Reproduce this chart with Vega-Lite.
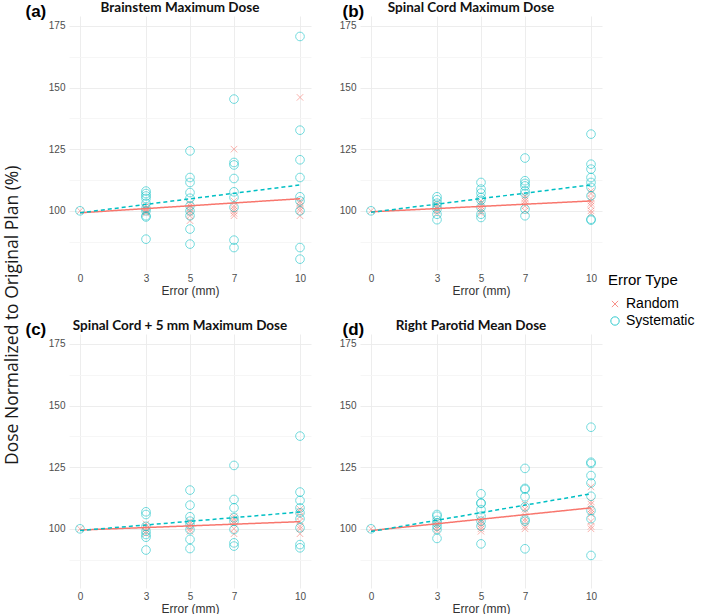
{
  "$schema": "https://vega.github.io/schema/vega-lite/v6.json",
  "padding": {"left": 3, "top": 0, "right": 0, "bottom": 0},
  "title": {"text": "Dose Normalized to Original Plan (%)", "orient": "left", "anchor": "middle", "frame": "bounds", "fontSize": 17.5, "fontWeight": "normal", "font": "Open Sans", "color": "#1a1a1a", "offset": 4, "dx": -8},
  "datasets": {
    "pts": [
      {"p":"a","t":"Random","e":0,"v":100},{"p":"a","t":"Systematic","e":0,"v":100},
      {"p":"a","t":"Random","e":3,"v":99},{"p":"a","t":"Random","e":3,"v":100},{"p":"a","t":"Random","e":3,"v":100.5},{"p":"a","t":"Random","e":3,"v":101},{"p":"a","t":"Random","e":3,"v":102},{"p":"a","t":"Random","e":3,"v":99.5},
      {"p":"a","t":"Random","e":5,"v":96},{"p":"a","t":"Random","e":5,"v":98},{"p":"a","t":"Random","e":5,"v":99},{"p":"a","t":"Random","e":5,"v":100},{"p":"a","t":"Random","e":5,"v":101},{"p":"a","t":"Random","e":5,"v":102},{"p":"a","t":"Random","e":5,"v":103},
      {"p":"a","t":"Random","e":7,"v":125},{"p":"a","t":"Random","e":7,"v":104},{"p":"a","t":"Random","e":7,"v":102},{"p":"a","t":"Random","e":7,"v":101},{"p":"a","t":"Random","e":7,"v":100},{"p":"a","t":"Random","e":7,"v":99},{"p":"a","t":"Random","e":7,"v":98},
      {"p":"a","t":"Random","e":10,"v":146},{"p":"a","t":"Random","e":10,"v":104},{"p":"a","t":"Random","e":10,"v":103},{"p":"a","t":"Random","e":10,"v":102},{"p":"a","t":"Random","e":10,"v":101},{"p":"a","t":"Random","e":10,"v":100},{"p":"a","t":"Random","e":10,"v":98},
      {"p":"a","t":"Systematic","e":3,"v":108},{"p":"a","t":"Systematic","e":3,"v":107},{"p":"a","t":"Systematic","e":3,"v":106},{"p":"a","t":"Systematic","e":3,"v":105},{"p":"a","t":"Systematic","e":3,"v":103},{"p":"a","t":"Systematic","e":3,"v":101},{"p":"a","t":"Systematic","e":3,"v":100},{"p":"a","t":"Systematic","e":3,"v":98},{"p":"a","t":"Systematic","e":3,"v":97.5},{"p":"a","t":"Systematic","e":3,"v":88.5},
      {"p":"a","t":"Systematic","e":5,"v":124.3},{"p":"a","t":"Systematic","e":5,"v":113.5},{"p":"a","t":"Systematic","e":5,"v":111.5},{"p":"a","t":"Systematic","e":5,"v":107.4},{"p":"a","t":"Systematic","e":5,"v":105.1},{"p":"a","t":"Systematic","e":5,"v":102},{"p":"a","t":"Systematic","e":5,"v":100},{"p":"a","t":"Systematic","e":5,"v":98},{"p":"a","t":"Systematic","e":5,"v":92.6},{"p":"a","t":"Systematic","e":5,"v":86.5},
      {"p":"a","t":"Systematic","e":7,"v":145.3},{"p":"a","t":"Systematic","e":7,"v":119.6},{"p":"a","t":"Systematic","e":7,"v":118.6},{"p":"a","t":"Systematic","e":7,"v":113.1},{"p":"a","t":"Systematic","e":7,"v":107.7},{"p":"a","t":"Systematic","e":7,"v":105.4},{"p":"a","t":"Systematic","e":7,"v":101.4},{"p":"a","t":"Systematic","e":7,"v":88.1},{"p":"a","t":"Systematic","e":7,"v":85.1},
      {"p":"a","t":"Systematic","e":10,"v":170.7},{"p":"a","t":"Systematic","e":10,"v":132.7},{"p":"a","t":"Systematic","e":10,"v":120.7},{"p":"a","t":"Systematic","e":10,"v":113.5},{"p":"a","t":"Systematic","e":10,"v":105.7},{"p":"a","t":"Systematic","e":10,"v":104},{"p":"a","t":"Systematic","e":10,"v":100},{"p":"a","t":"Systematic","e":10,"v":85.1},{"p":"a","t":"Systematic","e":10,"v":80.4},

      {"p":"b","t":"Random","e":0,"v":100},{"p":"b","t":"Systematic","e":0,"v":100},
      {"p":"b","t":"Random","e":3,"v":99},{"p":"b","t":"Random","e":3,"v":100},{"p":"b","t":"Random","e":3,"v":101},{"p":"b","t":"Random","e":3,"v":102},{"p":"b","t":"Random","e":3,"v":103},
      {"p":"b","t":"Random","e":5,"v":99},{"p":"b","t":"Random","e":5,"v":100},{"p":"b","t":"Random","e":5,"v":101},{"p":"b","t":"Random","e":5,"v":102},{"p":"b","t":"Random","e":5,"v":103},{"p":"b","t":"Random","e":5,"v":104},
      {"p":"b","t":"Random","e":7,"v":100},{"p":"b","t":"Random","e":7,"v":102},{"p":"b","t":"Random","e":7,"v":103},{"p":"b","t":"Random","e":7,"v":104},{"p":"b","t":"Random","e":7,"v":105},{"p":"b","t":"Random","e":7,"v":106},
      {"p":"b","t":"Random","e":10,"v":99},{"p":"b","t":"Random","e":10,"v":100},{"p":"b","t":"Random","e":10,"v":102},{"p":"b","t":"Random","e":10,"v":103},{"p":"b","t":"Random","e":10,"v":104},{"p":"b","t":"Random","e":10,"v":105},{"p":"b","t":"Random","e":10,"v":107},{"p":"b","t":"Random","e":10,"v":108},
      {"p":"b","t":"Systematic","e":3,"v":105.7},{"p":"b","t":"Systematic","e":3,"v":104.5},{"p":"b","t":"Systematic","e":3,"v":103.1},{"p":"b","t":"Systematic","e":3,"v":102},{"p":"b","t":"Systematic","e":3,"v":100.7},{"p":"b","t":"Systematic","e":3,"v":98.6},{"p":"b","t":"Systematic","e":3,"v":96.4},
      {"p":"b","t":"Systematic","e":5,"v":111.5},{"p":"b","t":"Systematic","e":5,"v":108.8},{"p":"b","t":"Systematic","e":5,"v":107.2},{"p":"b","t":"Systematic","e":5,"v":105.4},{"p":"b","t":"Systematic","e":5,"v":104.3},{"p":"b","t":"Systematic","e":5,"v":101.4},{"p":"b","t":"Systematic","e":5,"v":98.6},{"p":"b","t":"Systematic","e":5,"v":97.3},
      {"p":"b","t":"Systematic","e":7,"v":121.4},{"p":"b","t":"Systematic","e":7,"v":112.2},{"p":"b","t":"Systematic","e":7,"v":111.1},{"p":"b","t":"Systematic","e":7,"v":110.1},{"p":"b","t":"Systematic","e":7,"v":108.1},{"p":"b","t":"Systematic","e":7,"v":107},{"p":"b","t":"Systematic","e":7,"v":100.7},{"p":"b","t":"Systematic","e":7,"v":98},
      {"p":"b","t":"Systematic","e":10,"v":131.1},{"p":"b","t":"Systematic","e":10,"v":118.9},{"p":"b","t":"Systematic","e":10,"v":116.9},{"p":"b","t":"Systematic","e":10,"v":113.5},{"p":"b","t":"Systematic","e":10,"v":111.5},{"p":"b","t":"Systematic","e":10,"v":109.5},{"p":"b","t":"Systematic","e":10,"v":106.1},{"p":"b","t":"Systematic","e":10,"v":96.6},{"p":"b","t":"Systematic","e":10,"v":96.2},

      {"p":"c","t":"Random","e":0,"v":100},{"p":"c","t":"Systematic","e":0,"v":100},
      {"p":"c","t":"Random","e":3,"v":98},{"p":"c","t":"Random","e":3,"v":99},{"p":"c","t":"Random","e":3,"v":100},{"p":"c","t":"Random","e":3,"v":101},{"p":"c","t":"Random","e":3,"v":102},
      {"p":"c","t":"Random","e":5,"v":99},{"p":"c","t":"Random","e":5,"v":100},{"p":"c","t":"Random","e":5,"v":101},{"p":"c","t":"Random","e":5,"v":102},{"p":"c","t":"Random","e":5,"v":103},
      {"p":"c","t":"Random","e":7,"v":98},{"p":"c","t":"Random","e":7,"v":100},{"p":"c","t":"Random","e":7,"v":102},{"p":"c","t":"Random","e":7,"v":103},{"p":"c","t":"Random","e":7,"v":104},{"p":"c","t":"Random","e":7,"v":105},
      {"p":"c","t":"Random","e":10,"v":98},{"p":"c","t":"Random","e":10,"v":100},{"p":"c","t":"Random","e":10,"v":101},{"p":"c","t":"Random","e":10,"v":103},{"p":"c","t":"Random","e":10,"v":105},{"p":"c","t":"Random","e":10,"v":107},{"p":"c","t":"Random","e":10,"v":108},
      {"p":"c","t":"Systematic","e":3,"v":106.9},{"p":"c","t":"Systematic","e":3,"v":105.8},{"p":"c","t":"Systematic","e":3,"v":101},{"p":"c","t":"Systematic","e":3,"v":99},{"p":"c","t":"Systematic","e":3,"v":97.7},{"p":"c","t":"Systematic","e":3,"v":96.6},{"p":"c","t":"Systematic","e":3,"v":91.4},
      {"p":"c","t":"Systematic","e":5,"v":115.7},{"p":"c","t":"Systematic","e":5,"v":109.6},{"p":"c","t":"Systematic","e":5,"v":104.9},{"p":"c","t":"Systematic","e":5,"v":103.1},{"p":"c","t":"Systematic","e":5,"v":101.8},{"p":"c","t":"Systematic","e":5,"v":99.7},{"p":"c","t":"Systematic","e":5,"v":95.7},{"p":"c","t":"Systematic","e":5,"v":92},
      {"p":"c","t":"Systematic","e":7,"v":125.7},{"p":"c","t":"Systematic","e":7,"v":111.9},{"p":"c","t":"Systematic","e":7,"v":108.5},{"p":"c","t":"Systematic","e":7,"v":104.5},{"p":"c","t":"Systematic","e":7,"v":103.1},{"p":"c","t":"Systematic","e":7,"v":99.7},{"p":"c","t":"Systematic","e":7,"v":94.3},{"p":"c","t":"Systematic","e":7,"v":93},
      {"p":"c","t":"Systematic","e":10,"v":137.6},{"p":"c","t":"Systematic","e":10,"v":114.9},{"p":"c","t":"Systematic","e":10,"v":111.5},{"p":"c","t":"Systematic","e":10,"v":108.5},{"p":"c","t":"Systematic","e":10,"v":106.5},{"p":"c","t":"Systematic","e":10,"v":104.1},{"p":"c","t":"Systematic","e":10,"v":100.4},{"p":"c","t":"Systematic","e":10,"v":93.6},{"p":"c","t":"Systematic","e":10,"v":92.3},

      {"p":"d","t":"Random","e":0,"v":100},{"p":"d","t":"Systematic","e":0,"v":100},
      {"p":"d","t":"Random","e":3,"v":99},{"p":"d","t":"Random","e":3,"v":100},{"p":"d","t":"Random","e":3,"v":101},{"p":"d","t":"Random","e":3,"v":102},{"p":"d","t":"Random","e":3,"v":103},
      {"p":"d","t":"Random","e":5,"v":99},{"p":"d","t":"Random","e":5,"v":100},{"p":"d","t":"Random","e":5,"v":101},{"p":"d","t":"Random","e":5,"v":102},{"p":"d","t":"Random","e":5,"v":103},{"p":"d","t":"Random","e":5,"v":104},
      {"p":"d","t":"Random","e":7,"v":100},{"p":"d","t":"Random","e":7,"v":101},{"p":"d","t":"Random","e":7,"v":103},{"p":"d","t":"Random","e":7,"v":104},{"p":"d","t":"Random","e":7,"v":107},{"p":"d","t":"Random","e":7,"v":108},{"p":"d","t":"Random","e":7,"v":110},
      {"p":"d","t":"Random","e":10,"v":100},{"p":"d","t":"Random","e":10,"v":101},{"p":"d","t":"Random","e":10,"v":103},{"p":"d","t":"Random","e":10,"v":106},{"p":"d","t":"Random","e":10,"v":107},{"p":"d","t":"Random","e":10,"v":108},{"p":"d","t":"Random","e":10,"v":110},{"p":"d","t":"Random","e":10,"v":111},{"p":"d","t":"Random","e":10,"v":117},
      {"p":"d","t":"Systematic","e":3,"v":105.8},{"p":"d","t":"Systematic","e":3,"v":105.1},{"p":"d","t":"Systematic","e":3,"v":103.4},{"p":"d","t":"Systematic","e":3,"v":102.4},{"p":"d","t":"Systematic","e":3,"v":101.1},{"p":"d","t":"Systematic","e":3,"v":99.7},{"p":"d","t":"Systematic","e":3,"v":96.1},
      {"p":"d","t":"Systematic","e":5,"v":114.2},{"p":"d","t":"Systematic","e":5,"v":110.5},{"p":"d","t":"Systematic","e":5,"v":110.3},{"p":"d","t":"Systematic","e":5,"v":107.8},{"p":"d","t":"Systematic","e":5,"v":105.1},{"p":"d","t":"Systematic","e":5,"v":103.1},{"p":"d","t":"Systematic","e":5,"v":101.1},{"p":"d","t":"Systematic","e":5,"v":93.9},
      {"p":"d","t":"Systematic","e":7,"v":124.5},{"p":"d","t":"Systematic","e":7,"v":116.4},{"p":"d","t":"Systematic","e":7,"v":116},{"p":"d","t":"Systematic","e":7,"v":113},{"p":"d","t":"Systematic","e":7,"v":108.9},{"p":"d","t":"Systematic","e":7,"v":103.8},{"p":"d","t":"Systematic","e":7,"v":103.1},{"p":"d","t":"Systematic","e":7,"v":91.9},
      {"p":"d","t":"Systematic","e":10,"v":141.2},{"p":"d","t":"Systematic","e":10,"v":127},{"p":"d","t":"Systematic","e":10,"v":126.5},{"p":"d","t":"Systematic","e":10,"v":121.6},{"p":"d","t":"Systematic","e":10,"v":118.6},{"p":"d","t":"Systematic","e":10,"v":113.2},{"p":"d","t":"Systematic","e":10,"v":107.4},{"p":"d","t":"Systematic","e":10,"v":104.1},{"p":"d","t":"Systematic","e":10,"v":89.2}
    ],
    "fit": [
      {"p":"a","t":"Random","e":0,"v":99.2},{"p":"a","t":"Random","e":10,"v":104.9},
      {"p":"a","t":"Systematic","e":0,"v":99.2},{"p":"a","t":"Systematic","e":10,"v":110.5},
      {"p":"b","t":"Random","e":0,"v":99.6},{"p":"b","t":"Random","e":10,"v":104},
      {"p":"b","t":"Systematic","e":0,"v":99.4},{"p":"b","t":"Systematic","e":10,"v":110.5},
      {"p":"c","t":"Random","e":0,"v":99.5},{"p":"c","t":"Random","e":10,"v":102.9},
      {"p":"c","t":"Systematic","e":0,"v":99.3},{"p":"c","t":"Systematic","e":10,"v":106.8},
      {"p":"d","t":"Random","e":0,"v":99.3},{"p":"d","t":"Random","e":10,"v":108.5},
      {"p":"d","t":"Systematic","e":0,"v":98.9},{"p":"d","t":"Systematic","e":10,"v":114.2}
    ]
  },
  "columns": 2,
  "bounds": "flush",
  "spacing": {"row": 64, "column": 49},
  "resolve": {"legend": {"color": "independent", "shape": "independent"}},
  "concat": [
    {
      "width": 242, "height": 254,
      "title": {"text": "Brainstem Maximum Dose", "dx": -10},
      "encoding": {
        "x": {"field": "e", "type": "quantitative", "scale": {"domain": [-0.5, 10.5], "nice": false, "zero": false}, "axis": {"values": [0,3,5,7,10], "title": "Error (mm)"}},
        "y": {"field": "v", "type": "quantitative", "scale": {"domain": [76, 179], "nice": false, "zero": false}, "axis": {"title": "(a)", "values": [87.5,100,112.5,125,137.5,150,162.5,175], "titleX": -44, "titleY": -13}}
      },
      "layer": [
        {"data": {"name": "pts"}, "transform": [{"filter": "datum.p=='a'"}], "mark": {"type": "point", "filled": false, "opacity": 0.55, "size": 75, "strokeWidth": 1},
         "encoding": {"color": {"field": "t", "type": "nominal", "legend": null, "scale": {"domain": ["Random","Systematic"], "range": ["#F8766D","#00BFC4"]}},
                      "shape": {"field": "t", "type": "nominal", "legend": null, "scale": {"domain": ["Random","Systematic"], "range": ["M-0.75,-0.75L0.75,0.75M-0.75,0.75L0.75,-0.75","circle"]}}}},
        {"data": {"name": "fit"}, "transform": [{"filter": "datum.p=='a'"}], "mark": {"type": "line", "strokeWidth": 1.5},
         "encoding": {"color": {"field": "t", "type": "nominal", "legend": null},
                      "strokeDash": {"field": "t", "type": "nominal", "scale": {"domain": ["Random","Systematic"], "range": [[1,0],[4,3]]}, "legend": null}}}
      ]
    },
    {
      "width": 242, "height": 254,
      "title": {"text": "Spinal Cord Maximum Dose", "dx": -10},
      "encoding": {
        "x": {"field": "e", "type": "quantitative", "scale": {"domain": [-0.5, 10.5], "nice": false, "zero": false}, "axis": {"values": [0,3,5,7,10], "title": "Error (mm)"}},
        "y": {"field": "v", "type": "quantitative", "scale": {"domain": [76, 179], "nice": false, "zero": false}, "axis": {"title": "(b)", "values": [87.5,100,112.5,125,137.5,150,162.5,175], "titleX": -18, "titleY": -13}}
      },
      "layer": [
        {"data": {"name": "pts"}, "transform": [{"filter": "datum.p=='b'"}], "mark": {"type": "point", "filled": false, "opacity": 0.55, "size": 75, "strokeWidth": 1},
         "encoding": {"color": {"field": "t", "type": "nominal", "title": "Error Type", "scale": {"domain": ["Random","Systematic"], "range": ["#F8766D","#00BFC4"]}, "legend": {"orient": "none", "legendX": 248, "legendY": 257}},
                      "shape": {"field": "t", "type": "nominal", "title": "Error Type", "scale": {"domain": ["Random","Systematic"], "range": ["M-0.75,-0.75L0.75,0.75M-0.75,0.75L0.75,-0.75","circle"]}, "legend": {"orient": "none", "legendX": 248, "legendY": 257}}}},
        {"data": {"name": "fit"}, "transform": [{"filter": "datum.p=='b'"}], "mark": {"type": "line", "strokeWidth": 1.5},
         "encoding": {"color": {"field": "t", "type": "nominal", "title": "Error Type", "legend": {"orient": "none", "legendX": 248, "legendY": 257}},
                      "strokeDash": {"field": "t", "type": "nominal", "scale": {"domain": ["Random","Systematic"], "range": [[1,0],[4,3]]}, "legend": null}}}
      ]
    },
    {
      "width": 242, "height": 254,
      "title": {"text": "Spinal Cord + 5 mm Maximum Dose", "dx": -10},
      "encoding": {
        "x": {"field": "e", "type": "quantitative", "scale": {"domain": [-0.5, 10.5], "nice": false, "zero": false}, "axis": {"values": [0,3,5,7,10], "title": "Error (mm)"}},
        "y": {"field": "v", "type": "quantitative", "scale": {"domain": [76, 179], "nice": false, "zero": false}, "axis": {"title": "(c)", "values": [87.5,100,112.5,125,137.5,150,162.5,175], "titleX": -44, "titleY": -13}}
      },
      "layer": [
        {"data": {"name": "pts"}, "transform": [{"filter": "datum.p=='c'"}], "mark": {"type": "point", "filled": false, "opacity": 0.55, "size": 75, "strokeWidth": 1},
         "encoding": {"color": {"field": "t", "type": "nominal", "legend": null, "scale": {"domain": ["Random","Systematic"], "range": ["#F8766D","#00BFC4"]}},
                      "shape": {"field": "t", "type": "nominal", "legend": null, "scale": {"domain": ["Random","Systematic"], "range": ["M-0.75,-0.75L0.75,0.75M-0.75,0.75L0.75,-0.75","circle"]}}}},
        {"data": {"name": "fit"}, "transform": [{"filter": "datum.p=='c'"}], "mark": {"type": "line", "strokeWidth": 1.5},
         "encoding": {"color": {"field": "t", "type": "nominal", "legend": null},
                      "strokeDash": {"field": "t", "type": "nominal", "scale": {"domain": ["Random","Systematic"], "range": [[1,0],[4,3]]}, "legend": null}}}
      ]
    },
    {
      "width": 242, "height": 254,
      "title": {"text": "Right Parotid Mean Dose", "dx": -10},
      "encoding": {
        "x": {"field": "e", "type": "quantitative", "scale": {"domain": [-0.5, 10.5], "nice": false, "zero": false}, "axis": {"values": [0,3,5,7,10], "title": "Error (mm)"}},
        "y": {"field": "v", "type": "quantitative", "scale": {"domain": [76, 179], "nice": false, "zero": false}, "axis": {"title": "(d)", "values": [87.5,100,112.5,125,137.5,150,162.5,175], "titleX": -18, "titleY": -13}}
      },
      "layer": [
        {"data": {"name": "pts"}, "transform": [{"filter": "datum.p=='d'"}], "mark": {"type": "point", "filled": false, "opacity": 0.55, "size": 75, "strokeWidth": 1},
         "encoding": {"color": {"field": "t", "type": "nominal", "legend": null, "scale": {"domain": ["Random","Systematic"], "range": ["#F8766D","#00BFC4"]}},
                      "shape": {"field": "t", "type": "nominal", "legend": null, "scale": {"domain": ["Random","Systematic"], "range": ["M-0.75,-0.75L0.75,0.75M-0.75,0.75L0.75,-0.75","circle"]}}}},
        {"data": {"name": "fit"}, "transform": [{"filter": "datum.p=='d'"}], "mark": {"type": "line", "strokeWidth": 1.5},
         "encoding": {"color": {"field": "t", "type": "nominal", "legend": null},
                      "strokeDash": {"field": "t", "type": "nominal", "scale": {"domain": ["Random","Systematic"], "range": [[1,0],[4,3]]}, "legend": null}}}
      ]
    }
  ],
  "config": {
    "view": {"stroke": null},
    "font": "Liberation Sans",
    "axis": {
      "domain": false, "ticks": false,
      "labelColor": "#4d4d4d", "labelFontSize": 10, "labelPadding": 5,
      "gridColor": {"condition": {"test": "datum.value % 1 == 0", "value": "#ebebeb"}, "value": "#f5f5f5"},
      "gridWidth": 0.9,
      "labelExpr": "datum.value % 1 == 0 ? datum.label : ''",
      "titleFont": "Liberation Sans"
    },
    "axisX": {"titleFontSize": 12, "titleFontWeight": "normal", "titleColor": "#333333", "titlePadding": 2, "labelPadding": 3},
    "axisY": {"titleFontSize": 17, "titleFontWeight": "bold", "titleColor": "#000000", "titleAngle": 0, "titleAlign": "left", "titleBaseline": "top", "labelPadding": 4},
    "title": {"font": "Lato", "fontWeight": "bold", "fontSize": 13.5, "color": "#111111", "offset": -12, "anchor": "middle", "frame": "group"},
    "legend": {"titleFontSize": 15, "titleFontWeight": "normal", "titleColor": "#000000", "titleFont": "Liberation Sans", "labelFontSize": 14, "labelColor": "#000000", "labelFont": "Liberation Sans", "symbolSize": 70, "symbolStrokeWidth": 1, "rowPadding": 3, "titlePadding": 9, "symbolOpacity": 0.8}
  }
}
